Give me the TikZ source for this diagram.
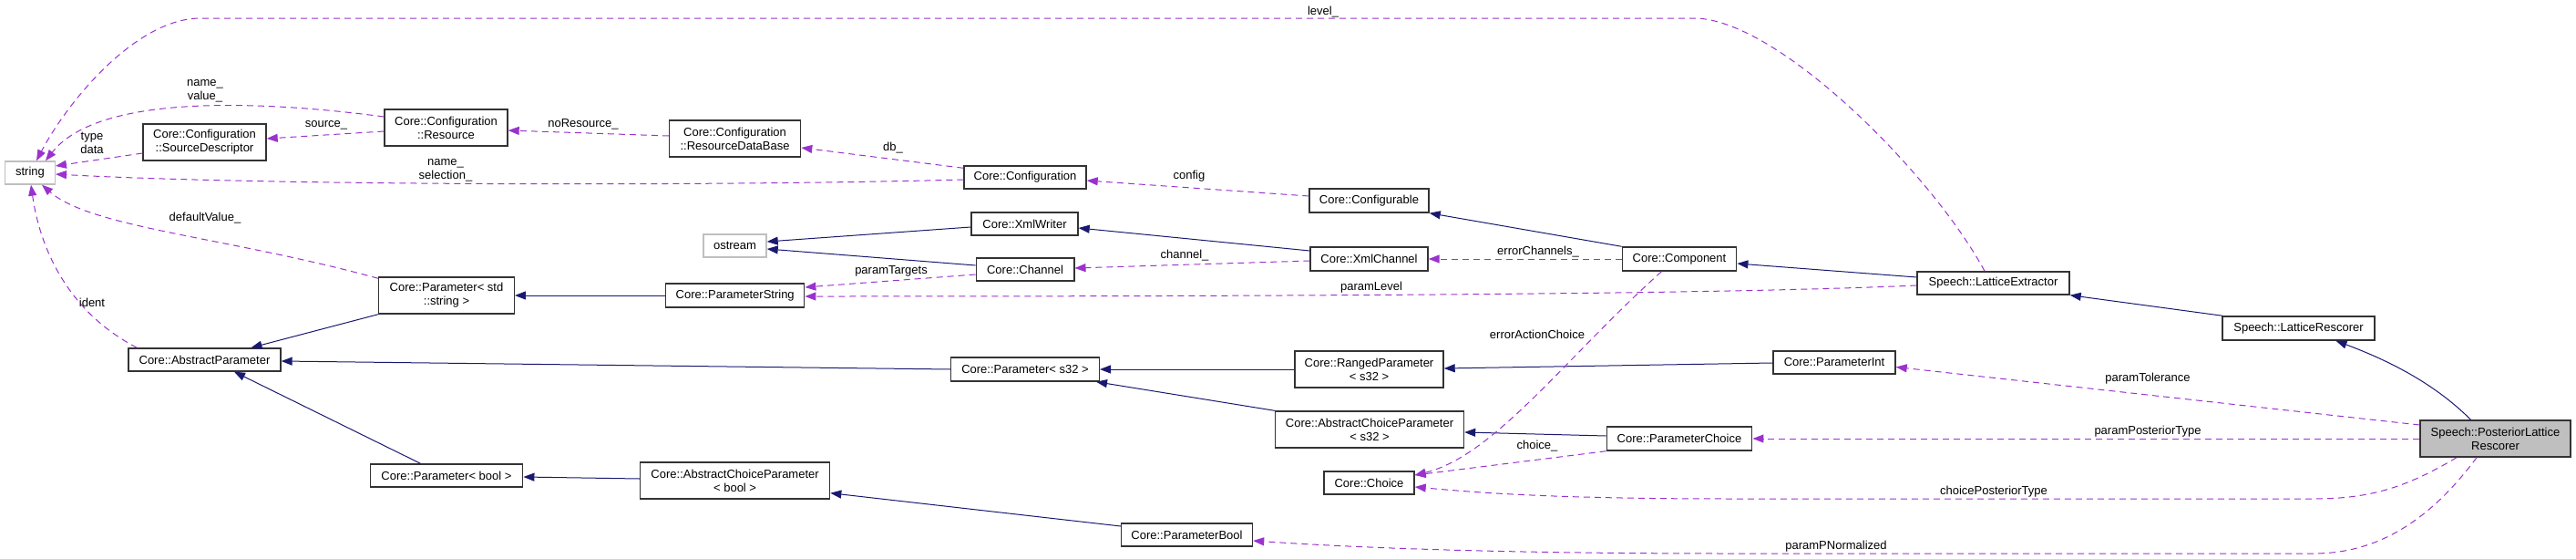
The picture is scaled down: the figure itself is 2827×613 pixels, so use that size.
\documentclass[tikz,border=0pt]{standalone}
\usepackage{fontspec}
\setmainfont{Liberation Sans}
\usetikzlibrary{arrows.meta,calc}
\definecolor{inhcol}{HTML}{191970}
\definecolor{usecol}{HTML}{9A32CD}
\definecolor{grayb}{HTML}{BFBFBF}
\begin{document}
\begin{tikzpicture}[x=1pt,y=-1pt,
  font=\fontsize{13}{15}\selectfont,
  cls/.style={draw=black!80,line width=1.4pt,rectangle,inner sep=0pt,align=center,minimum height=25pt,fill=white},
  extcls/.style={cls,draw=grayb},
  curcls/.style={cls,fill=grayb},
  inhe/.style={draw=inhcol,line width=1pt,-{Triangle[length=12pt,width=9pt]}},
  usee/.style={draw=usecol,line width=1pt,dash pattern=on 7pt off 5pt,-{Triangle[length=12pt,width=9pt]}},
  lbl/.style={inner sep=0pt,align=center}]
\useasboundingbox (0,0) rectangle (2827,613);

% nodes
\node[extcls,minimum width=54.5pt] (string) at (33,189.5) {string};
\node[cls,minimum width=135pt,minimum height=40pt] (srcdesc) at (224.5,156) {Core::Configuration\\::SourceDescriptor};
\node[cls,minimum width=167pt] (absparam) at (224.5,394.5) {Core::AbstractParameter};
\node[cls,minimum width=135pt,minimum height=40pt] (resource) at (489.5,140) {Core::Configuration\\::Resource};
\node[cls,minimum width=148.5pt,minimum height=40pt] (paramstd) at (490,324) {Core::Parameter< std\\::string >};
\node[cls,minimum width=167.5pt] (parambool) at (490,521.5) {Core::Parameter< bool >};
\node[cls,minimum width=144pt,minimum height=40pt] (rdb) at (806.6,152) {Core::Configuration\\::ResourceDataBase};
\node[extcls,minimum width=69pt] (ostream) at (806.5,269.5) {ostream};
\node[cls,minimum width=152pt,minimum height=26pt] (paramstring) at (806.7,324) {Core::ParameterString};
\node[cls,minimum width=208pt,minimum height=40pt] (acpbool) at (806.6,527) {Core::AbstractChoiceParameter\\< bool >};
\node[cls,minimum width=134pt] (configuration) at (1125,194.5) {Core::Configuration};
\node[cls,minimum width=117pt] (xmlwriter) at (1124.5,245.5) {Core::XmlWriter};
\node[cls,minimum width=107.6pt] (channel) at (1125,295.5) {Core::Channel};
\node[cls,minimum width=162.6pt,minimum height=26pt] (params32) at (1125,405) {Core::Parameter< s32 >};
\node[cls,minimum width=144pt] (pbool) at (1302.5,586.5) {Core::ParameterBool};
\node[cls,minimum width=131pt,minimum height=26pt] (configurable) at (1502.5,220) {Core::Configurable};
\node[cls,minimum width=129pt,minimum height=26pt] (xmlchannel) at (1502.5,284) {Core::XmlChannel};
\node[cls,minimum width=163pt,minimum height=40pt] (ranged) at (1502.5,405) {Core::RangedParameter\\< s32 >};
\node[cls,minimum width=207pt,minimum height=40pt] (acps32) at (1503,471) {Core::AbstractChoiceParameter\\< s32 >};
\node[cls,minimum width=99pt] (choice) at (1502.5,529.5) {Core::Choice};
\node[cls,minimum width=125.4pt,minimum height=26pt] (component) at (1843,284) {Core::Component};
\node[cls,minimum width=159.5pt,minimum height=26pt] (pchoice) at (1843,481) {Core::ParameterChoice};
\node[cls,minimum width=134pt] (pint) at (2013,397.5) {Core::ParameterInt};
\node[cls,minimum width=167pt] (lext) at (2187.5,310.5) {Speech::LatticeExtractor};
\node[cls,minimum width=167pt,minimum height=26pt] (lresc) at (2522.5,360) {Speech::LatticeRescorer};
\node[curcls,minimum width=165pt,minimum height=40pt] (plr) at (2738.5,481) {Speech::PosteriorLattice\\Rescorer};

% inheritance edges
\draw[inhe] ([xshift=1pt]lresc.north west) -- (lext.south east);
\draw[inhe] ([xshift=-27pt]plr.north) .. controls +(-41,-41) and +(56,21) .. ([xshift=41pt]lresc.south);
\draw[inhe] ([yshift=6.5pt]lext.west) -- ([yshift=-5pt]component.east);
\draw[inhe] (component.north west) -- (configurable.south east);
\draw[inhe] ([yshift=9pt]xmlchannel.west) -- ([yshift=-4.5pt]xmlwriter.east);
\draw[inhe] ([yshift=-3.5pt]xmlwriter.west) -- ([yshift=4.5pt]ostream.east);
\draw[inhe] ([yshift=4.5pt]channel.west) -- ([yshift=-3.5pt]ostream.east);
\draw[inhe] (paramstring.west) -- (paramstd.east);
\draw[inhe] (paramstd.south west) -- ([xshift=51pt]absparam.north);
\draw[inhe] (params32.west) -- ([yshift=-1.5pt]absparam.east);
\draw[inhe] ([xshift=-28.5pt]parambool.north) -- ([xshift=32.5pt]absparam.south);
\draw[inhe] (ranged.west) -- (params32.east);
\draw[inhe] (acps32.north west) -- ([xshift=-4pt]params32.south east);
\draw[inhe] ([yshift=-0.5pt]pint.west) -- ([yshift=1pt]ranged.east);
\draw[inhe] ([yshift=3pt]pchoice.west) -- ([yshift=-3pt]acps32.east);
\draw[inhe] ([yshift=2pt]acpbool.west) -- ([yshift=-1.5pt]parambool.east);
\draw[inhe] ([yshift=-3.7pt]pbool.north west) -- ([yshift=7pt]acpbool.south east);

% usage edges
\draw[usee] ([xshift=-9.5pt]lext.north) .. controls (2120,190) and (1950,20) .. (1859,20) -- (220,20) .. controls (150,20) and (75,110) .. ([xshift=7pt]string.north);
\draw[usee] ([yshift=12pt]resource.west) .. controls (300,112) and (110,100) .. ([xshift=17pt]string.north);
\draw[usee] ([yshift=-12pt]srcdesc.west) -- ([yshift=7.5pt]string.east);
\draw[usee] ([yshift=-4pt]resource.west) -- ([yshift=4pt]srcdesc.east);
\draw[usee] ([yshift=3pt]rdb.west) -- ([yshift=-3pt]resource.east);
\draw[usee] ([yshift=-3pt]configuration.north west) -- ([yshift=-10pt]rdb.east);
\draw[usee] ([yshift=-2.5pt]configuration.west) .. controls (800,204) and (300,204) .. ([yshift=-1.5pt]string.east);
\draw[usee] ([yshift=5pt]configurable.west) -- ([yshift=-3.5pt]configuration.east);
\draw[usee] ([yshift=-2pt]paramstd.north west) .. controls (250,260) and (100,250) .. ([xshift=13pt]string.south);
\draw[usee] ([xshift=10pt]absparam.north west) .. controls (80,345) and (45,280) .. ([xshift=1pt]string.south);
\draw[usee] ([yshift=-5.5pt]channel.west) -- ([yshift=9pt]paramstring.east);
\draw[usee] ([yshift=-2pt]xmlchannel.west) -- ([yshift=1.5pt]channel.east);
\draw[usee] (component.west) -- (xmlchannel.east);
\draw[usee] ([yshift=-2.5pt]lext.west) .. controls (1900,322) and (1500,325) .. ([yshift=-1pt]paramstring.east);
\draw[usee] ([xshift=-19.5pt]component.south) .. controls (1720,390) and (1640,500) .. ([yshift=8.5pt]choice.east);
\draw[usee] (pchoice.south west) -- ([yshift=8.5pt]choice.east);
\draw[usee] ([yshift=15pt]plr.west) -- ([yshift=-5pt]pint.east);
\draw[usee] (plr.west) -- (pchoice.east);
\draw[usee] ([xshift=-42.5pt]plr.south) .. controls (2640,535) and (2600,547) .. (2539,547) -- (1900,547) .. controls (1700,547) and (1620,540) .. ([yshift=-4.5pt]choice.east);
\draw[usee] ([xshift=-20.5pt]plr.south) .. controls (2660,580) and (2600,607) .. (2539,607) -- (1900,607) .. controls (1600,607) and (1450,598) .. ([yshift=-6.5pt]pbool.east);

% labels
\node[lbl] (l1) at (1452,13) {level\_};
\node[lbl] (l2) at (225,100) {name\_\\value\_};
\node[lbl] (l3) at (358,137) {source\_};
\node[lbl] (l4) at (101,157) {type\\data};
\node[lbl] (l5) at (640,136) {noResource\_};
\node[lbl] (l6) at (980,162) {db\_};
\node[lbl] (l7) at (489,187) {name\_\\selection\_};
\node[lbl] (l8) at (1305,193) {config};
\node[lbl] (l9) at (225,239) {defaultValue\_};
\node[lbl] (l10) at (101,332) {ident};
\node[lbl] (l11) at (978,297) {paramTargets};
\node[lbl] (l12) at (1300,280) {channel\_};
\node[lbl] (l13) at (1688,276) {errorChannels\_};
\node[lbl] (l14) at (1505,315) {paramLevel};
\node[lbl] (l15) at (1687,367) {errorActionChoice};
\node[lbl] (l16) at (1687,489) {choice\_};
\node[lbl] (l17) at (2357,415) {paramTolerance};
\node[lbl] (l18) at (2357,473) {paramPosteriorType};
\node[lbl] (l19) at (2188,539) {choicePosteriorType};
\node[lbl] (l20) at (2015,599) {paramPNormalized};
\end{tikzpicture}
\end{document}
